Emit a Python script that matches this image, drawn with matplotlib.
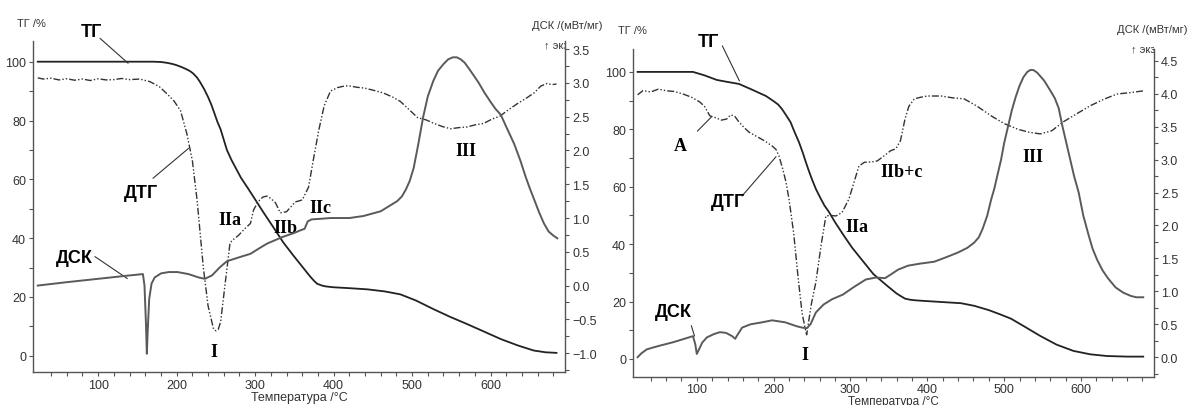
import numpy as np
import matplotlib
matplotlib.use("Agg")
import matplotlib.pyplot as plt
from matplotlib.transforms import Bbox, TransformedBbox

plt.rcParams['font.family'] = ['Liberation Sans', 'DejaVu Sans']

# ---------- left sample ----------
tg1_x = [23, 100, 170, 180, 188, 195, 200, 206, 212, 217, 221, 226, 230, 235, 240, 244, 247, 252,
         256, 260, 264, 270, 275, 282, 290, 298, 310, 323, 336, 349, 358, 364, 370, 375, 379, 385,
         390, 400, 420, 443, 465, 485, 505, 527, 548, 570, 592, 613, 635, 655, 670, 684]
tg1_y = [100, 100, 100, 99.9, 99.6, 99.2, 98.8, 98.2, 97.5, 96.8, 96, 94.6, 93, 90.7, 88, 85.5,
         83.3, 79.5, 77, 73.5, 70, 66.5, 64, 60.5, 57.3, 54, 49, 43.8, 38.5, 34, 31, 29, 27, 25.5,
         24.5, 23.9, 23.6, 23.3, 23, 22.6, 21.9, 20.9, 18.8, 15.9, 13.3, 10.8, 8.2, 5.7, 3.5, 1.8,
         1.2, 1.0]

dtg1_x = [23, 30, 40, 50, 60, 70, 80, 90, 100, 110, 120, 130, 140, 153, 166, 178, 188, 197, 205, 213,
          220, 226, 234, 240, 247, 250, 253, 256, 262, 268, 272, 279, 286, 294, 298, 304, 310, 315, 320,
          326, 332, 336, 340, 345, 351, 360, 368, 374, 381, 388, 396, 405, 415, 421, 430, 440, 452, 463,
          475, 485, 495, 507, 518, 528, 538, 549, 560, 570, 580, 591, 602, 612, 622, 634, 645, 656, 664,
          672, 678, 684]
dtg1_y = [94.5, 94.1, 94.4, 93.8, 94.2, 93.7, 94.1, 93.6, 94.2, 93.8, 93.9, 94.3, 93.9, 94.1, 93.2,
          91.5, 89, 86.5, 83.3, 75.5, 66.4, 53, 30, 17, 9.1, 8.5, 9, 11.5, 25, 38.4, 39.5, 41, 43, 45,
          49.6, 52.5, 54, 54.3, 53.5, 52, 48.6, 48.8, 49, 50.5, 52.3, 53, 57.3, 66.4, 76.6, 85, 90, 91.2,
          91.8, 91.7, 91.3, 91, 90.2, 89.4, 88, 86.5, 84, 81, 80.2, 79, 78, 77.2, 77.6, 77.8, 78.5, 79,
          80.5, 81.5, 83.5, 85.7, 87.5, 89.5, 91.7, 92.6, 92.2, 92.4]

dsc1_x = [23, 60, 100, 140, 157, 159, 161, 162, 163, 165, 168, 172, 180, 190, 201, 215, 228, 236,
          245, 255, 264, 280, 294, 305, 315, 335, 350, 358, 363, 367, 372, 385, 396, 420, 438, 460,
          481, 487, 492, 497, 502, 508, 514, 520, 527, 533, 540, 546, 552, 557, 562, 567, 572, 578,
          585, 592, 600, 606, 613, 620, 630, 638, 645, 650, 655, 662, 668, 674, 680, 685]
dsc1_y = [0.0, 0.05, 0.1, 0.15, 0.17, 0.0, -0.6, -1.01, -0.7, -0.2, 0.03, 0.12, 0.18, 0.2, 0.2,
          0.17, 0.12, 0.1, 0.15, 0.27, 0.36, 0.42, 0.47, 0.55, 0.62, 0.72, 0.78, 0.82, 0.84, 0.95,
          0.98, 0.99, 1.0, 1.0, 1.03, 1.1, 1.25, 1.32, 1.42, 1.55, 1.74, 2.1, 2.49, 2.8, 3.03, 3.18,
          3.28, 3.35, 3.38, 3.38, 3.35, 3.3, 3.22, 3.12, 3.0, 2.86, 2.72, 2.62, 2.53, 2.35, 2.1, 1.85,
          1.6, 1.44, 1.29, 1.08, 0.92, 0.8, 0.74, 0.7]

# ---------- right sample ----------
tg2_x = [23, 60, 95, 110, 126, 140, 155, 172, 190, 200, 206, 211, 216, 222, 227, 233, 238, 242,
         246, 250, 255, 261, 266, 272, 280, 290, 302, 314, 330, 349, 360, 366, 371, 378, 385, 396,
         420, 444, 461, 480, 495, 509, 525, 547, 568, 590, 612, 634, 660, 681]
tg2_y = [100, 100, 100, 98.8, 97.2, 96.5, 95.8, 93.8, 91.6, 89.8, 88.6, 87, 85, 82.5, 79.2, 75.5,
         71.8, 68.5, 65.4, 62.5, 59.2, 56, 53.5, 51.2, 47.6, 43.5, 38.8, 34.8, 29.5, 25.2, 22.8,
         21.8, 21.0, 20.6, 20.4, 20.2, 19.8, 19.4, 18.5, 17, 15.5, 14, 11.5, 8, 5, 2.8, 1.6, 1.0,
         0.8, 0.8]

dtg2_x = [23, 30, 40, 50, 61, 70, 82, 93, 104, 110, 117, 125, 132, 139, 144, 149, 155, 162, 168,
          178, 188, 198, 203, 207, 212, 216, 220, 226, 232, 237, 242, 243, 245, 249, 255, 262, 268,
          274, 281, 289, 298, 304, 311, 318, 327, 335, 345, 352, 359, 365, 371, 376, 383, 392, 400,
          418, 432, 448, 465, 483, 500, 518, 532, 547, 562, 577, 595, 612, 630, 647, 665, 681]
dtg2_y = [92, 93.5, 93, 94, 93.4, 93.2, 92.3, 91.2, 89.5, 88, 84.7, 84, 83.2, 83.6, 85, 84.7, 82.5,
          80.5, 79, 77.5, 76, 74.2, 73, 70.7, 66, 61.7, 55.7, 44, 28, 16, 9.4, 8.4, 12, 19, 26.8, 40,
          49.8, 50, 49.8, 51, 55.7, 61, 67.2, 68.5, 68.6, 69, 71, 72.5, 73.2, 76, 83.6, 88, 90.6, 91.2,
          91.6, 91.6, 91, 90.6, 88, 84.7, 82, 80, 79, 78.4, 79.5, 82.6, 85.5, 88.2, 90.5, 92.3, 92.8, 93.4]

dsc2_x = [23, 28, 35, 50, 70, 95, 98, 100, 103, 107, 113, 122, 130, 138, 146, 150, 153, 159, 170,
          185, 198, 215, 230, 237, 243, 248, 255, 265, 276, 290, 305, 320, 333, 345, 353, 362, 375,
          390, 409, 425, 440, 452, 461, 467, 472, 478, 483, 487, 491, 496, 500, 505, 510, 515, 520,
          525, 530, 534, 538, 543, 552, 560, 566, 571, 576, 581, 586, 591, 597, 603, 610, 615, 621,
          628, 635, 645, 655, 665, 672, 681]
dsc2_y = [0.0, 0.06, 0.12, 0.17, 0.23, 0.32, 0.2, 0.05, 0.12, 0.22, 0.3, 0.35, 0.38, 0.37, 0.32,
          0.28, 0.34, 0.45, 0.5, 0.53, 0.56, 0.53, 0.47, 0.45, 0.44, 0.5, 0.68, 0.8, 0.88, 0.95, 1.07,
          1.18, 1.21, 1.2, 1.26, 1.33, 1.39, 1.42, 1.45, 1.52, 1.59, 1.66, 1.74, 1.82, 1.95, 2.15,
          2.39, 2.55, 2.75, 3.0, 3.25, 3.5, 3.75, 3.95, 4.12, 4.25, 4.33, 4.36, 4.36, 4.32, 4.2, 4.05,
          3.93, 3.78, 3.5, 3.25, 3.0, 2.75, 2.5, 2.15, 1.85, 1.65, 1.48, 1.32, 1.2, 1.06, 0.98, 0.93,
          0.91, 0.91]

tg_ticks = [0, 20, 40, 60, 80, 100]
x_ticks = [100, 200, 300, 400, 500, 600]
dsc1_ticks = [-1.0, -0.5, 0.0, 0.5, 1.0, 1.5, 2.0, 2.5, 3.0, 3.5]
dsc2_ticks = [0.0, 0.5, 1.0, 1.5, 2.0, 2.5, 3.0, 3.5, 4.0, 4.5]

SP = '#555555'
DTG_LS = (0, (5, 1.5, 1, 1.5, 1, 1.5))

fig = plt.figure(figsize=(11.93, 4.06), dpi=100)


def panel(rect, tg, dtg, dsc, ylim, dsc_lim, dsc_ticks, xlab_size, xpad):
    ax = fig.add_axes(rect)
    ax2 = ax.twinx()
    ax.plot(tg[0], tg[1], color='#222222', lw=1.3)
    ax.plot(dtg[0], dtg[1], color='#333333', lw=1.0, ls=DTG_LS)
    ax2.plot(dsc[0], dsc[1], color='#5a5a5a', lw=1.4)
    ax.set_xlim(17, 695)
    ax.set_ylim(*ylim)
    ax2.set_ylim(*dsc_lim)
    ax.set_xticks(x_ticks)
    ax.set_xticks(np.arange(40, 700, 20), minor=True)
    ax.set_yticks(tg_ticks)
    ax.set_yticks(np.arange(10, 101, 20), minor=True)
    ax2.set_yticks(dsc_ticks)
    ax2.set_yticks(np.arange(dsc_ticks[0] - 0.25, dsc_ticks[-1], 0.5), minor=True)
    for a in (ax, ax2):
        for s in a.spines.values():
            s.set_color(SP)
            s.set_linewidth(1.0)
        a.spines['top'].set_visible(False)
        a.tick_params(which='both', colors=SP, labelcolor='#333333', labelsize=9,
                      length=3, width=0.8, pad=2)
    ax.tick_params(axis='x', which='both', pad=xpad)
    ax.spines['right'].set_visible(False)
    ax2.spines['left'].set_visible(False)
    ax2.spines['bottom'].set_visible(False)
    ax.set_xlabel('Температура /°C', fontsize=xlab_size, color='#333333', labelpad=0)
    return ax, ax2


bold = dict(fontsize=13, fontweight='bold', ha='center', va='center', clip_on=False)
roman = dict(fontsize=13, fontweight='bold', family='Liberation Serif', ha='center',
             va='center', clip_on=False)
small = dict(fontsize=8, color='#333333', va='center', clip_on=False)
lead = dict(color='#333333', lw=0.8)

# left panel
ax, ax2 = panel([0.0277, 0.0813, 0.446, 0.815], (tg1_x, tg1_y), (dtg1_x, dtg1_y),
                (dsc1_x, dsc1_y), (-5.5, 107), (-1.28, 3.62), dsc1_ticks, 9, 2)
ax.text(-3, 113, 'ТГ /%', ha='left', **small)
ax.text(743, 112.6, 'ДСК /(мВт/мг)', ha='right', **small)
t = ax.text(707, 105.9, '↑ экзо', ha='right', **small)
t.set_clip_on(True)
t.set_clip_box(TransformedBbox(Bbox([[0, 0], [565 / 1193, 1]]), fig.transFigure))
ax.text(91, 110.3, 'ТГ', **bold)
ax.plot([102.5, 138], [107.9, 99.5], clip_on=False, **lead)
ax.text(155, 55.6, 'ДТГ', **bold)
ax.plot([170, 215], [60.4, 70.5], **lead)
ax.text(69, 33.4, 'ДСК', **bold)
ax.plot([96, 137], [33.7, 26.3], **lead)
ax.text(268, 46.2, 'IIa', **roman)
ax.text(338, 43.5, 'IIb', **roman)
ax.text(383, 50.3, 'IIc', **roman)
ax.text(247, 1.3, 'I', **roman)
ax.text(568, 69.8, 'III', **roman)

# right panel
ax, ax2 = panel([0.5306, 0.069, 0.4367, 0.808], (tg2_x, tg2_y), (dtg2_x, dtg2_y),
                (dsc2_x, dsc2_y), (-6.3, 108), (-0.30, 4.68), dsc2_ticks, 8.5, 1)
ax.text(-2.4, 114.6, 'ТГ /%', ha='left', **small)
ax.text(739, 115, 'ДСК /(мВт/мг)', ha='right', **small)
t = ax.text(705, 108, '↑ экзо', ha='right', **small)
t.set_clip_on(True)
t.set_clip_box(TransformedBbox(Bbox([[0, 0], [1154 / 1193, 1]]), fig.transFigure))
ax.text(115, 110.5, 'ТГ', **bold)
ax.plot([133.4, 155.4], [109, 96.9], clip_on=False, **lead)
ax.text(79, 74.2, 'A', **roman)
ax.plot([101, 119], [79.4, 84.3], **lead)
ax.text(140, 54.7, 'ДТГ', **bold)
ax.plot([159, 203], [56.8, 70.4], **lead)
ax.text(69, 16.4, 'ДСК', **bold)
ax.plot([93, 97], [11.5, 8], **lead)
ax.text(241, 1.7, 'I', **roman)
ax.text(308, 46, 'IIa', **roman)
ax.text(366, 65.2, 'IIb+c', **roman)
ax.text(538, 70.4, 'III', **roman)

fig.savefig('out.png', dpi=100)
